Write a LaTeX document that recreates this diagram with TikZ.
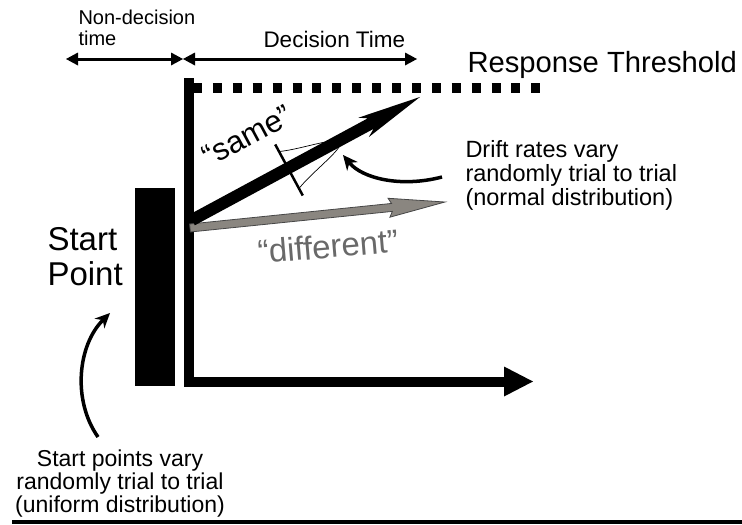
\documentclass[tikz,border=0pt]{standalone}
\usepackage{fontspec}
\setmainfont{Liberation Sans}
\usepackage{xcolor}
\usepackage{tikz}
\usetikzlibrary{arrows.meta}

\definecolor{driftgray}{RGB}{138,134,128}
\definecolor{edgegray}{RGB}{70,70,70}
\definecolor{labelgray}{RGB}{105,105,105}

\begin{document}
\begin{tikzpicture}[x=1pt, y=-1pt, line width=1pt,
    txt/.style={inner sep=0pt, anchor=base west, align=left},
    timearrow/.style={line width=3pt, {Triangle[length=12pt,width=13pt,line width=0pt]}-{Triangle[length=12pt,width=13pt,line width=0pt]}},
    bendarrow/.style={line width=3.5pt, -{Stealth[length=15pt,width=14pt,line width=0pt]}}]
        \useasboundingbox (0,0) rectangle (742,525);

        % 时间段与双向箭头 (多行文字: base 为末行基线)
        \node[txt, font={\fontsize{20}{21}\selectfont}] (nondec) at (78,45) {Non-decision\\time};
        \node[txt, font={\fontsize{22.5}{24}\selectfont}] (dectime) at (263,47) {Decision Time};
        \coordinate (ndleft) at (66,59);
        \coordinate (split) at (183,59);
        \coordinate (dtright) at (417,59);
        \draw[timearrow] (ndleft) -- (split);
        \draw[timearrow] (split) -- (dtright);

        % 反应阈值 (虚线)
        \node[txt, font={\fontsize{29.2}{30}\selectfont}] (thresh) at (467,72) {Response Threshold};
        \draw[line width=10pt, dash pattern=on 9pt off 10.9pt] (193,88) -- (540,88);

        % 坐标轴
        \coordinate (ytop) at (188.5,78);
        \coordinate (xtip) at (533,381.5);
        \draw[line width=10pt, -{Triangle[length=29pt,width=30pt,line width=0pt]}] (ytop) |- (xtip);

        % 起点区间
        \fill (135,188) rectangle (175,386);
        \node[txt, font={\fontsize{33}{35}\selectfont}] (startpt) at (47,285) {Start\\Point};

        % "different" 漂移率
        \begin{scope}[shift={(190,228)}, rotate=5.82]
            \filldraw[fill=driftgray, draw=edgegray, line width=0.8pt]
                (0,-4) -- (203,-4) -- (200,-9.5) -- (256.3,0) -- (200,9.5) -- (203,4) -- (0,4) -- cycle;
        \end{scope}
        \node[inner sep=0pt, anchor=base, rotate=4.8, text=labelgray, font={\fontsize{33}{35}\selectfont}] (diff) at (329,258) {“different”};

        % 漂移率分布 (正态)
        \begin{scope}[shift={(289,170)}, rotate=28.35]
            \draw[line width=2.5pt] (0,-29) -- (0,29);
            \draw[line width=0.7pt] plot[domain=-21:21, samples=41, smooth] ({58*(exp(-(\x)^2/288)-0.216)/0.784}, \x);
        \end{scope}

        % "same" 漂移率
        \begin{scope}[shift={(192,220)}, rotate=28.35]
            \fill (0,-6) -- (203,-6) -- (195,-11) -- (259.1,0) -- (195,11) -- (203,6) -- (0,6) -- cycle;
        \end{scope}
        \node[inner sep=0pt, anchor=base, rotate=28.35, font={\fontsize{31}{33}\selectfont}] (same) at (252,145) {“same”};

        % 说明文字与弯箭头
        \node[txt, font={\fontsize{23.5}{24}\selectfont}] (driftnote) at (465,205) {Drift rates vary\\randomly trial to trial\\(normal distribution)};
        \coordinate (driftfrom) at (442,177);
        \coordinate (driftto) at (343,155);
        \draw[bendarrow] (driftfrom) .. controls (400,188) and (362,178) .. (driftto);

        \node[txt, anchor=base, align=center, font={\fontsize{23}{23}\selectfont}] (startnote) at (120,512) {Start points vary\\randomly trial to trial\\(uniform distribution)};
        \coordinate (startfrom) at (98,437);
        \coordinate (startto) at (110,313);
        \draw[bendarrow] (startfrom) .. controls (72,400) and (78,345) .. (startto);

        % 底部横线
        \draw[line width=4pt] (12,521.5) -- (742,521.5);
    \end{tikzpicture}
\end{document}
